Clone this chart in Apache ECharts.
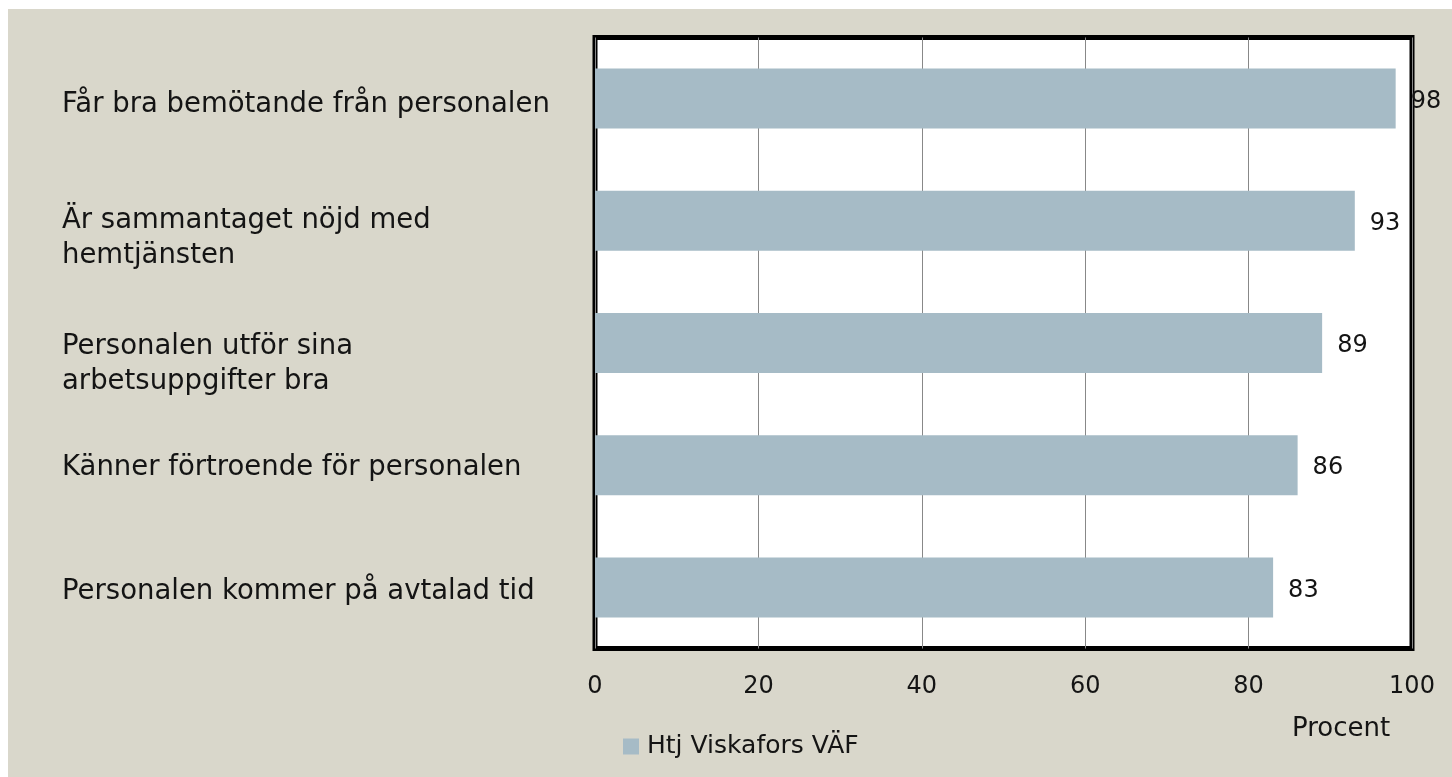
<!DOCTYPE html>
<html>
<head>
<meta charset="utf-8">
<script src="https://cdn.jsdelivr.net/npm/echarts@6/dist/echarts.min.js"></script>
<style>
  html, body { margin: 0; padding: 0; background: #ffffff; }
  #chart { width: 1452px; height: 777px; }
</style>
</head>
<body>
<div id="chart"></div>
<script>
const categories = [
  'Får bra bemötande från personalen',
  'Är sammantaget nöjd med\nhemtjänsten',
  'Personalen utför sina\narbetsuppgifter bra',
  'Känner förtroende för personalen',
  'Personalen kommer på avtalad tid'
];
const labelShift = [12, 36, 42, 6, 8];
const values = [98, 93, 89, 86, 83];
const seriesName = 'Htj Viskafors VÄF';
const xTicks = [0, 20, 40, 60, 80, 100];
const axisTitle = 'Procent';

const FONT = '"DejaVu Sans", sans-serif';
const TEXT = '#141414';

const rich = { t: { fontFamily: FONT, fontSize: 27.5, color: TEXT, lineHeight: 35, align: 'left' } };
labelShift.forEach((h, i) => { rich['sp' + i] = { height: h, lineHeight: h, fontSize: 1 }; });

const chart = echarts.init(document.getElementById('chart'), null, { renderer: 'canvas' });
chart.setOption({
  animation: false,
  backgroundColor: '#ffffff',
  graphic: [
    { type: 'rect', left: 8, top: 9, z: -10, shape: { width: 1444, height: 768 }, style: { fill: '#D9D7CB' } },
    { type: 'text', left: 1292, top: 716, style: { text: axisTitle, font: '26px ' + FONT, fill: TEXT } }
  ],
  grid: {
    left: 595, right: 40, top: 37.5, bottom: 128.5,
    containLabel: false, outerBoundsMode: 'none',
    show: true, backgroundColor: '#ffffff', borderColor: '#000000', borderWidth: 5
  },
  legend: {
    left: 623, top: 734, padding: 0,
    itemWidth: 16, itemHeight: 16, icon: 'rect',
    textStyle: { fontFamily: FONT, fontSize: 25, color: TEXT, padding: [0, 0, 0, 3] },
    data: [seriesName]
  },
  xAxis: {
    type: 'value', min: 0, max: 100, interval: 20,
    axisLine: { show: false }, axisTick: { show: false },
    splitLine: { show: true, lineStyle: { color: '#888888', width: 1 } },
    axisLabel: {
      margin: 26, fontFamily: FONT, fontSize: 24, color: TEXT,
      formatter: v => xTicks.includes(v) ? String(v) : ''
    }
  },
  yAxis: {
    type: 'category', inverse: true,
    data: categories,
    axisLine: { show: false }, axisTick: { show: false },
    splitLine: { show: false },
    axisLabel: {
      align: 'left', margin: 533, fontFamily: FONT, fontSize: 27.5, color: TEXT, lineHeight: 35,
      formatter: (v, i) => '{sp' + i + '| }\n' + v.split('\n').map(s => '{t|' + s + '}').join('\n'),
      rich: rich
    }
  },
  series: [{
    name: seriesName, type: 'bar', data: values, barWidth: 60,
    itemStyle: { color: '#A6BBC6' },
    label: {
      show: true, position: 'right', distance: 15, offset: [0, 3],
      fontFamily: FONT, fontSize: 24, color: TEXT
    }
  }]
});
</script>
</body>
</html>
